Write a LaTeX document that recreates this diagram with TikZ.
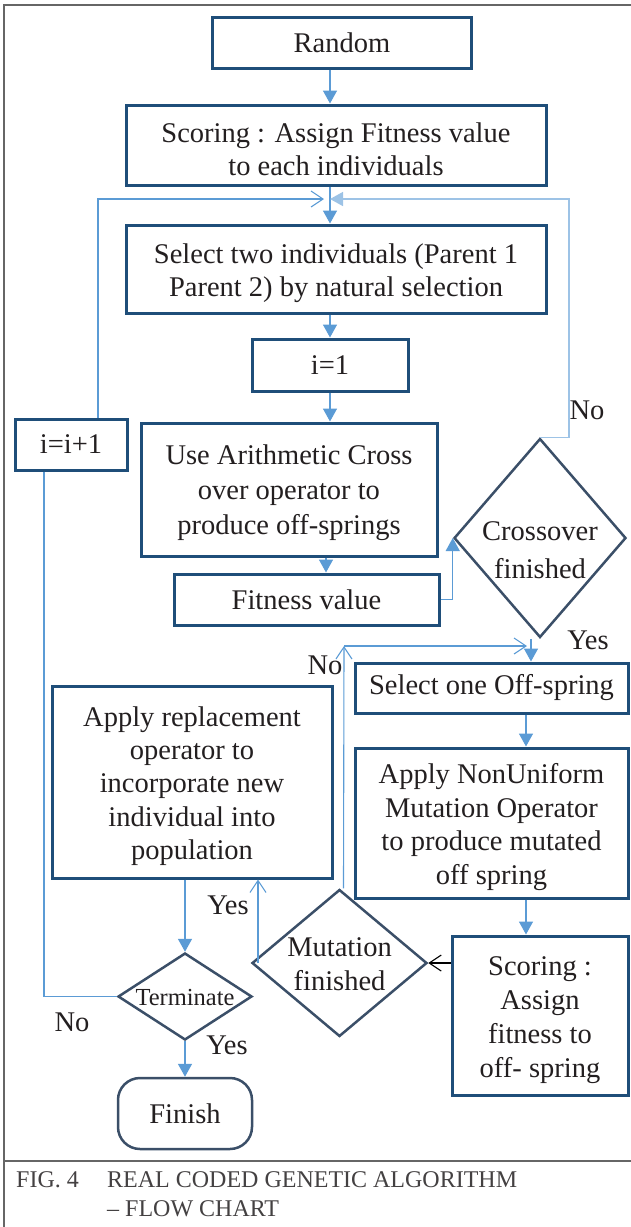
\documentclass[tikz,border=0pt]{standalone}
\usepackage{fontspec}
\setmainfont{Liberation Serif}
\usetikzlibrary{arrows.meta,shapes.geometric,calc}
\definecolor{boxc}{HTML}{1F4E79}
\definecolor{diac}{HTML}{3B4F68}
\definecolor{arrc}{HTML}{5B9BD5}
\definecolor{lightc}{HTML}{9DC3E6}
\definecolor{txtc}{HTML}{231F20}
\definecolor{framec}{HTML}{666666}
\newcommand\mainf{\fontsize{28.5}{33}\selectfont}
\tikzset{
  box/.style={draw=boxc, line width=3pt, rectangle, inner sep=0pt, align=center, font=\mainf, text=txtc},
  dia/.style={draw=diac, line width=2.5pt, diamond, inner sep=0pt},
  lbl/.style={font=\mainf, inner sep=0pt, text=txtc, align=center},
  arr/.style={draw=arrc, line width=1.5pt, -{Triangle[width=14pt,length=13pt]}},
  oarr/.style={draw=arrc, line width=1.1pt, -{Straight Barb[width=16pt,length=12pt]}},
  larr/.style={draw=lightc, line width=1.5pt, -{Triangle[width=14pt,length=13pt]}},
  thinline/.style={draw=arrc, line width=1.1pt},
  capt/.style={font=\fontsize{24}{28}\selectfont, inner sep=0pt, text=txtc!85, anchor=west}
}
\begin{document}
\begin{tikzpicture}[x=1pt,y=-1pt]
\useasboundingbox (0,0) rectangle (631,1227);
% frame
\draw[framec, line width=2pt] (4,1227) -- (4,5) -- (631,5);
\draw[framec, line width=2pt] (4,1161) -- (631,1161);

% boxes
\node[box, minimum width=259, minimum height=51] (random) at (342,42.5) {Random};
\node[box, minimum width=420, minimum height=80] (score1) at (336,145) {};
\node[lbl] (score1t) at (336,149) {Scoring : Assign Fitness value\\to each individuals};
\node[box, minimum width=420, minimum height=88] (select) at (336,269) {};
\node[lbl] (selectt) at (336,273) {Select two individuals (Parent 1\\Parent 2) by natural selection};
\node[box, minimum width=156, minimum height=52] (ione) at (330,365) {i=1};
\node[box, minimum width=296, minimum height=133] (use) at (289,489.5) {};
\node[lbl, font=\fontsize{28.5}{35}\selectfont] (uset) at (289,493) {Use Arithmetic Cross\\over operator to\\produce off-springs};
\node[box, minimum width=265, minimum height=51] (fit) at (306.5,599.5) {Fitness value};
\node[box, minimum width=112, minimum height=51] (inc) at (71,444.5) {i=i+1};
\node[dia, minimum width=172, minimum height=199] (cross) at (540,538) {};
\node[lbl, font=\fontsize{28.5}{38}\selectfont] (crosst) at (540,550) {Crossover\\finished};
\node[box, minimum width=273, minimum height=50] (sel1) at (491.5,688) {Select one Off-spring};
\node[box, minimum width=273, minimum height=150] (nonu) at (491.5,823) {};
\node[lbl, font=\fontsize{28.5}{33.5}\selectfont] (nonut) at (491.5,827) {Apply NonUniform\\Mutation Operator\\to produce mutated\\off spring};
\node[box, minimum width=176, minimum height=159] (score2) at (540,1015.5) {};
\node[lbl, font=\fontsize{28.5}{34}\selectfont] (score2t) at (540,1020) {Scoring :\\Assign\\fitness to\\off- spring};
\node[dia, minimum width=175, minimum height=147] (mut) at (339.5,963) {};
\node[lbl, font=\fontsize{28.5}{34}\selectfont] (mutt) at (339.5,964) {Mutation\\finished};
\node[box, minimum width=280, minimum height=192] (repl) at (192,782) {};
\node[lbl, font=\fontsize{28.5}{33.3}\selectfont] (replt) at (192,786) {Apply replacement\\operator to\\incorporate new\\individual into\\population};
\node[dia, minimum width=134, minimum height=87] (term) at (185,996.5) {};
\node[lbl, font=\fontsize{24.5}{28}\selectfont] (termt) at (185,997.5) {Terminate};
\node[box, draw=diac, line width=2.5pt, rounded corners=22pt, minimum width=134, minimum height=71] (finish) at (185,1113.5) {Finish};

% coordinates
\coordinate (merge) at (330,199);
\coordinate (lx) at (98,199);
\coordinate (rx) at (569,199);
\coordinate (cx) at (531,0);
\coordinate (colx) at (526,0);
\coordinate (fx) at (326,0);
\coordinate (mx) at (344,646);
\coordinate (mend) at (527,646);
\coordinate (yx) at (258,963);
\coordinate (ix) at (44,0);

% connectors
\draw[arr] (random.south -| ione.center) -- (score1.north -| ione.center);
\draw[arr] (score1.south -| merge) -- (select.north -| merge);
\draw[arr] (select.south -| merge) -- (ione.north -| merge);
\draw[arr] (ione.south) -- (use.north -| ione.south);
\draw[arr] (use.south -| fx) -- (fit.north -| fx);
\draw[arr, line width=1.2pt] (fit.east) -| (cross.west);
\draw[larr] (cross.north) -| (rx) -- (merge);
\draw[oarr, shorten >=6pt] (inc.north -| lx) -- (lx) -- (merge);
\draw[thinline] (inc.south -| ix) |- (term.west);
\draw[arr] (cross.south -| cx) -- (sel1.north -| cx);
\draw[oarr] ($(mut.north)+(4,0)$) -- (mx);
\draw[oarr] (mx) -- (mend);
\draw[arr] (sel1.south -| colx) -- (nonu.north -| colx);
\draw[arr] (nonu.south -| colx) -- (score2.north -| colx);
\draw[black, line width=1.1pt, -{Straight Barb[width=16pt,length=12pt]}] (mut.east -| score2.west) -- (mut.east);
\draw[oarr] (yx) -- (yx |- repl.south);
\draw[arr] (repl.south -| term.north) -- (term.north);
\draw[arr] (term.south) -- (finish.north);

% labels
\node[lbl] (no1) at (587,410) {No};
\node[lbl] (yes1) at (588,640) {Yes};
\node[lbl] (no2) at (325,665) {No};
\node[lbl] (yes2) at (228,905) {Yes};
\node[lbl] (no3) at (72,1022) {No};
\node[lbl] (yes3) at (227,1045) {Yes};

% caption
\node[capt] (fig) at (16,1180) {FIG. 4};
\node[capt] (cap1) at (107,1180) {REAL CODED GENETIC ALGORITHM};
\node[capt] (cap2) at (107,1209) {– FLOW CHART};
\end{tikzpicture}
\end{document}
